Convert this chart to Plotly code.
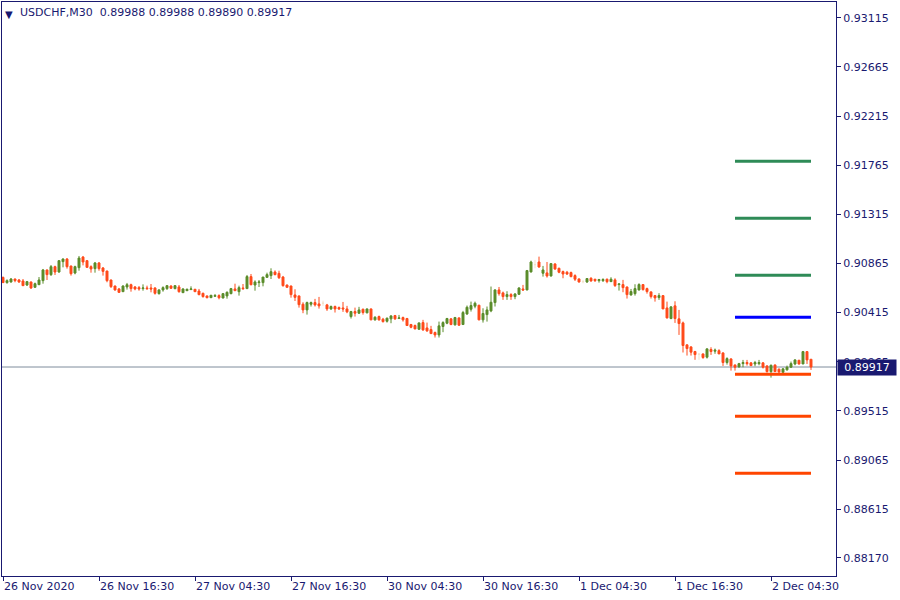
import plotly.graph_objects as go

# ---- data (USDCHF M30 candles) ----
opens = [0.90738,0.90690,0.90696,0.90723,0.90714,0.90705,0.90668,0.90696,0.90647,0.90671,
0.90708,0.90806,0.90763,0.90836,0.90787,0.90882,0.90906,0.90842,0.90778,0.90827,
0.90924,0.90891,0.90836,0.90818,0.90870,0.90824,0.90796,0.90714,0.90659,0.90632,
0.90607,0.90650,0.90671,0.90650,0.90644,0.90635,0.90641,0.90641,0.90641,0.90589,
0.90623,0.90635,0.90659,0.90635,0.90650,0.90598,0.90616,0.90626,0.90629,0.90613,
0.90592,0.90568,0.90552,0.90565,0.90571,0.90549,0.90568,0.90589,0.90632,0.90607,
0.90641,0.90635,0.90745,0.90668,0.90690,0.90690,0.90738,0.90754,0.90787,0.90775,
0.90741,0.90668,0.90659,0.90577,0.90568,0.90492,0.90440,0.90492,0.90507,0.90495,
0.90501,0.90486,0.90449,0.90471,0.90461,0.90458,0.90449,0.90379,0.90425,0.90410,
0.90446,0.90413,0.90449,0.90349,0.90379,0.90355,0.90336,0.90358,0.90388,0.90361,
0.90370,0.90361,0.90306,0.90297,0.90263,0.90324,0.90275,0.90260,0.90233,0.90211,
0.90288,0.90318,0.90358,0.90303,0.90367,0.90306,0.90403,0.90446,0.90474,0.90483,
0.90349,0.90397,0.90431,0.90507,0.90623,0.90596,0.90562,0.90580,0.90562,0.90583,
0.90632,0.90623,0.90788,0.90855,0.90879,0.90776,0.90779,0.90751,0.90861,0.90821,
0.90791,0.90785,0.90782,0.90754,0.90724,0.90699,0.90696,0.90730,0.90721,0.90708,
0.90708,0.90721,0.90699,0.90715,0.90672,0.90672,0.90650,0.90577,0.90589,0.90623,
0.90672,0.90635,0.90605,0.90571,0.90553,0.90571,0.90458,0.90361,0.90477,0.90358,
0.90321,0.90120,0.90101,0.90059,0.90034,0.90037,0.90007,0.90077,0.90062,0.90067,
0.90046,0.89958,0.89991,0.89936,0.89918,0.89948,0.89958,0.89955,0.89945,0.89948,
0.89955,0.89927,0.89875,0.89936,0.89897,0.89869,0.89891,0.89915,0.89945,0.89979,
0.89945,0.90058,0.89988]
highs = [0.90745,0.90720,0.90732,0.90726,0.90723,0.90723,0.90705,0.90699,0.90690,0.90741,
0.90815,0.90809,0.90851,0.90845,0.90894,0.90912,0.90915,0.90845,0.90845,0.90934,
0.90934,0.90897,0.90848,0.90879,0.90879,0.90833,0.90799,0.90717,0.90662,0.90641,
0.90665,0.90687,0.90680,0.90659,0.90659,0.90674,0.90662,0.90677,0.90647,0.90629,
0.90656,0.90668,0.90665,0.90668,0.90668,0.90638,0.90635,0.90656,0.90632,0.90632,
0.90598,0.90571,0.90577,0.90586,0.90583,0.90595,0.90610,0.90641,0.90680,0.90662,
0.90677,0.90760,0.90769,0.90711,0.90714,0.90741,0.90781,0.90821,0.90802,0.90799,
0.90751,0.90671,0.90662,0.90629,0.90571,0.90510,0.90516,0.90516,0.90541,0.90559,
0.90525,0.90495,0.90480,0.90480,0.90471,0.90513,0.90477,0.90431,0.90461,0.90468,
0.90452,0.90452,0.90452,0.90382,0.90388,0.90367,0.90370,0.90391,0.90394,0.90394,
0.90379,0.90367,0.90312,0.90306,0.90324,0.90349,0.90324,0.90294,0.90242,0.90333,
0.90336,0.90367,0.90364,0.90376,0.90370,0.90431,0.90480,0.90516,0.90516,0.90486,
0.90455,0.90471,0.90654,0.90629,0.90650,0.90608,0.90611,0.90593,0.90593,0.90647,
0.90669,0.90806,0.90891,0.90898,0.90928,0.90843,0.90879,0.90867,0.90867,0.90827,
0.90800,0.90797,0.90791,0.90766,0.90727,0.90715,0.90730,0.90739,0.90724,0.90724,
0.90730,0.90727,0.90739,0.90730,0.90678,0.90715,0.90653,0.90632,0.90675,0.90684,
0.90675,0.90644,0.90608,0.90577,0.90593,0.90574,0.90516,0.90471,0.90519,0.90440,
0.90333,0.90123,0.90107,0.90065,0.90044,0.90040,0.90089,0.90098,0.90086,0.90080,
0.90052,0.90006,0.89997,0.89939,0.89955,0.89982,0.89982,0.89961,0.89973,0.89982,
0.89961,0.89933,0.89939,0.89939,0.89903,0.89906,0.89930,0.89967,0.89988,0.89982,
0.90064,0.90061,0.89988]
lows = [0.90687,0.90680,0.90690,0.90693,0.90687,0.90662,0.90659,0.90632,0.90644,0.90671,
0.90680,0.90714,0.90751,0.90760,0.90781,0.90830,0.90818,0.90754,0.90766,0.90799,
0.90848,0.90824,0.90781,0.90781,0.90799,0.90754,0.90693,0.90641,0.90616,0.90595,
0.90604,0.90626,0.90607,0.90620,0.90616,0.90616,0.90623,0.90601,0.90580,0.90580,
0.90607,0.90623,0.90632,0.90629,0.90598,0.90595,0.90613,0.90626,0.90604,0.90574,
0.90552,0.90546,0.90549,0.90559,0.90537,0.90546,0.90543,0.90583,0.90616,0.90571,
0.90623,0.90635,0.90665,0.90616,0.90650,0.90656,0.90735,0.90723,0.90757,0.90723,
0.90653,0.90644,0.90552,0.90522,0.90461,0.90410,0.90397,0.90471,0.90471,0.90452,
0.90477,0.90431,0.90440,0.90416,0.90440,0.90422,0.90410,0.90361,0.90379,0.90403,
0.90397,0.90410,0.90346,0.90342,0.90342,0.90324,0.90324,0.90318,0.90349,0.90361,
0.90333,0.90294,0.90272,0.90263,0.90257,0.90248,0.90239,0.90220,0.90187,0.90187,
0.90236,0.90309,0.90300,0.90297,0.90294,0.90303,0.90394,0.90425,0.90455,0.90345,
0.90324,0.90333,0.90419,0.90471,0.90571,0.90532,0.90532,0.90532,0.90538,0.90577,
0.90614,0.90620,0.90782,0.90821,0.90827,0.90745,0.90736,0.90745,0.90806,0.90776,
0.90730,0.90760,0.90739,0.90705,0.90690,0.90684,0.90687,0.90699,0.90696,0.90690,
0.90696,0.90684,0.90696,0.90650,0.90617,0.90602,0.90544,0.90571,0.90571,0.90617,
0.90617,0.90589,0.90544,0.90516,0.90532,0.90449,0.90361,0.90355,0.90321,0.90211,
0.90050,0.90022,0.90022,0.89983,0.89983,0.89992,0.89995,0.90028,0.90038,0.90037,
0.89927,0.89939,0.89884,0.89884,0.89912,0.89915,0.89930,0.89927,0.89924,0.89933,
0.89903,0.89866,0.89820,0.89872,0.89860,0.89854,0.89884,0.89912,0.89933,0.89939,
0.89945,0.89945,0.89890]
closes = [0.90690,0.90708,0.90723,0.90708,0.90696,0.90662,0.90699,0.90641,0.90680,0.90714,
0.90806,0.90763,0.90836,0.90787,0.90891,0.90906,0.90836,0.90772,0.90836,0.90915,
0.90879,0.90830,0.90815,0.90870,0.90818,0.90793,0.90708,0.90653,0.90623,0.90601,
0.90659,0.90671,0.90635,0.90632,0.90632,0.90641,0.90635,0.90632,0.90592,0.90623,
0.90644,0.90662,0.90638,0.90662,0.90607,0.90632,0.90629,0.90632,0.90607,0.90580,
0.90562,0.90552,0.90574,0.90571,0.90552,0.90589,0.90601,0.90635,0.90616,0.90644,
0.90635,0.90745,0.90671,0.90696,0.90696,0.90741,0.90763,0.90790,0.90763,0.90735,
0.90662,0.90647,0.90580,0.90555,0.90488,0.90440,0.90507,0.90507,0.90486,0.90477,
0.90501,0.90449,0.90471,0.90449,0.90449,0.90449,0.90422,0.90425,0.90410,0.90440,
0.90416,0.90449,0.90349,0.90373,0.90349,0.90333,0.90364,0.90385,0.90358,0.90367,
0.90349,0.90297,0.90281,0.90266,0.90321,0.90257,0.90248,0.90223,0.90211,0.90294,
0.90324,0.90361,0.90306,0.90370,0.90300,0.90416,0.90464,0.90480,0.90501,0.90349,
0.90407,0.90440,0.90510,0.90623,0.90589,0.90562,0.90580,0.90562,0.90586,0.90641,
0.90623,0.90800,0.90879,0.90855,0.90833,0.90806,0.90751,0.90864,0.90815,0.90785,
0.90769,0.90769,0.90745,0.90721,0.90696,0.90699,0.90727,0.90705,0.90708,0.90718,
0.90718,0.90699,0.90721,0.90663,0.90678,0.90644,0.90580,0.90608,0.90635,0.90672,
0.90626,0.90608,0.90562,0.90550,0.90571,0.90449,0.90367,0.90468,0.90361,0.90315,
0.90114,0.90086,0.90053,0.90031,0.90034,0.90004,0.90083,0.90059,0.90071,0.90037,
0.89958,0.89994,0.89927,0.89915,0.89948,0.89958,0.89948,0.89930,0.89958,0.89958,
0.89915,0.89875,0.89933,0.89875,0.89872,0.89900,0.89915,0.89948,0.89982,0.89945,
0.90058,0.89982,0.89917]

tick_idx = [0, 24, 48, 72, 96, 120, 144, 168, 192]
tick_text = ["26 Nov 2020", "26 Nov 16:30", "27 Nov 04:30", "27 Nov 16:30",
             "30 Nov 04:30", "30 Nov 16:30", "1 Dec 04:30", "1 Dec 16:30", "2 Dec 04:30"]
price_ticks = [0.93115, 0.92665, 0.92215, 0.91765, 0.91315, 0.90865, 0.90415,
               0.89965, 0.89515, 0.89065, 0.88615, 0.88170]

levels_green = [0.91801, 0.91279, 0.90757]
level_blue = 0.90372
levels_red = [0.89850, 0.89465, 0.88943]
level_start, level_end = 183, 202

bid = 0.89917
title_text = "USDCHF,M30  0.89988 0.89988 0.89890 0.89917"

# ---- styles ----
NAVY = "#191970"
BULL = "#5a8c2a"
BEAR = "#ff4a1a"
DOJI = "#f3e3cc"
FONT = "DejaVu Sans"

n = len(opens)
xs = list(range(n))
normal = [i for i in xs if opens[i] != closes[i]]
doji = [i for i in xs if opens[i] == closes[i]]

def pick(arr, idx):
    return [arr[i] for i in idx]

fig = go.Figure()
fig.add_trace(go.Candlestick(
    x=normal, open=pick(opens, normal), high=pick(highs, normal),
    low=pick(lows, normal), close=pick(closes, normal),
    increasing=dict(line=dict(color=BULL, width=1), fillcolor=BULL),
    decreasing=dict(line=dict(color=BEAR, width=1), fillcolor=BEAR),
    whiskerwidth=0, showlegend=False, hoverinfo="skip"))
fig.add_trace(go.Candlestick(
    x=doji, open=pick(opens, doji), high=pick(highs, doji),
    low=pick(lows, doji), close=pick(closes, doji),
    increasing=dict(line=dict(color=DOJI, width=1), fillcolor=DOJI),
    decreasing=dict(line=dict(color=DOJI, width=1), fillcolor=DOJI),
    whiskerwidth=0, showlegend=False, hoverinfo="skip"))

shapes = []
# bid line
shapes.append(dict(type="line", xref="paper", x0=0, x1=1, yref="y", y0=bid, y1=bid,
                   line=dict(color="#7f8c9c", width=1), layer="below"))
for lv in levels_green:
    shapes.append(dict(type="line", xref="x", x0=level_start, x1=level_end, yref="y",
                       y0=lv, y1=lv, line=dict(color="#2e8b57", width=3)))
shapes.append(dict(type="line", xref="x", x0=level_start, x1=level_end, yref="y",
                   y0=level_blue, y1=level_blue, line=dict(color="#0000ff", width=3)))
for lv in levels_red:
    shapes.append(dict(type="line", xref="x", x0=level_start, x1=level_end, yref="y",
                       y0=lv, y1=lv, line=dict(color="#ff4500", width=3)))

annotations = [
    dict(xref="paper", yref="paper", x=0, y=1, xanchor="left", yanchor="top",
         xshift=1, yshift=-5, text="▼", showarrow=False,
         font=dict(family=FONT, size=10, color=NAVY)),
    dict(xref="paper", yref="paper", x=0, y=1, xanchor="left", yanchor="top",
         xshift=16, yshift=-2, text=title_text, showarrow=False,
         font=dict(family=FONT, size=11, color=NAVY)),
    dict(xref="paper", yref="y", x=1, y=bid, xanchor="left", yanchor="middle",
         xshift=1, text="%.5f" % bid, showarrow=False, bgcolor=NAVY, borderpad=1,
         width=56, align="center",
         font=dict(family=FONT, size=11, color="white")),
]

fig.update_layout(
    width=900, height=600,
    margin=dict(l=2, r=64, t=2, b=24),
    paper_bgcolor="white", plot_bgcolor="white",
    font=dict(family=FONT, size=11, color=NAVY),
    shapes=shapes, annotations=annotations,
    showlegend=False,
    xaxis=dict(
        range=[-0.25, 208.25], rangeslider=dict(visible=False),
        tickmode="array", tickvals=tick_idx, ticktext=tick_text,
        ticks="outside", ticklen=4, tickcolor=NAVY, tickwidth=1,
        ticklabelposition="outside right",
        showline=True, linecolor=NAVY, linewidth=1, mirror=True,
        showgrid=False, zeroline=False,
        tickfont=dict(family=FONT, size=11, color=NAVY)),
    yaxis=dict(
        range=[0.88003, 0.93260], side="right",
        tickmode="array", tickvals=price_ticks,
        ticktext=["%.5f" % v for v in price_ticks],
        ticks="outside", ticklen=4, tickcolor=NAVY, tickwidth=1,
        showline=True, linecolor=NAVY, linewidth=1, mirror=True,
        showgrid=False, zeroline=False,
        tickfont=dict(family=FONT, size=11, color=NAVY)),
)

fig.write_html("out.html", config={"displayModeBar": False},
               post_script="document.body.style.margin='0';document.body.style.overflow='hidden';")
